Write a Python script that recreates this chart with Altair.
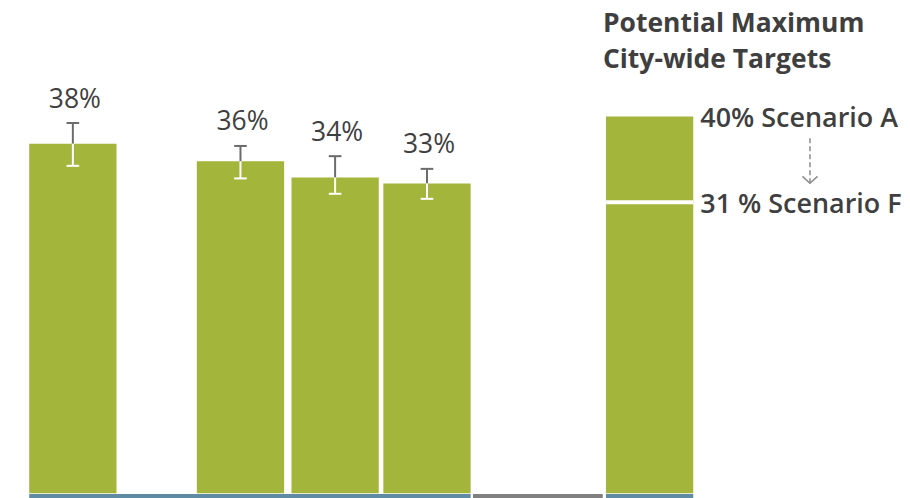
import altair as alt
import pandas as pd

# ---- data ----
groups = ["Group 1", "Group 2", "Group 3", "Group 4"]
slot_pos = [0.0, 1.826, 2.857, 3.858]          # layout slot of each bar (category order)
values = [38.0, 36.1, 34.33, 33.68]
value_labels = ["38%", "36%", "34%", "33%"]
err_hi = [40.26, 37.76, 36.65, 35.27]
err_lo = [35.6, 34.23, 32.56, 32.01]

target_slot = 6.283
target_values = [40.97, 31.65]
target_labels = ["40% Scenario A", "31 % Scenario F"]
target_title = "Potential Maximum\nCity-wide Targets"
arrow_from, arrow_to = 38.6, 33.7

# ---- styling ----
GREEN = "#a4b53b"
BLUE = "#5f8ba5"
GREY_STRIP = "#808080"
ERR_GREY = "#6b6b6b"
TEXT = "#3f3f3f"
FONT = "Open Sans"
HW = 0.4755      # half bar width in slot units
CAP = 0.069      # half cap width in slot units

W, H = 894, 495
UNIT = 92.0
XMIN = -65 / UNIT
XMAX = XMIN + W / UNIT
xs = alt.Scale(domain=[XMIN, XMAX], nice=False, zero=False)
ys = alt.Scale(domain=[-1, 52.7], nice=False, zero=False)

bars = pd.DataFrame({
    "group": groups + ["Target"],
    "pos": slot_pos + [target_slot],
    "val": values + [target_values[0]],
})
bars["x0"] = bars["pos"] - HW
bars["x1"] = bars["pos"] + HW
bars["zero"] = 0.0

err = pd.DataFrame({
    "group": groups, "pos": slot_pos, "val": values,
    "hi": err_hi, "lo": err_lo, "label": value_labels,
})
err["c0"] = err["pos"] - CAP
err["c1"] = err["pos"] + CAP

strip = pd.DataFrame({
    "x0": [slot_pos[0] - HW, slot_pos[-1] + HW + 0.025, target_slot - HW],
    "x1": [slot_pos[-1] + HW, target_slot - HW - 0.035, target_slot + HW],
    "color": [BLUE, GREY_STRIP, BLUE],
})
strip["y0"] = -0.08
strip["y1"] = -1.0

target = pd.DataFrame({
    "val": target_values, "label": target_labels,
    "x0": [target_slot - HW] * 2, "x1": [target_slot + HW] * 2,
})
gap = target.iloc[[1]].reset_index(drop=True)

ttl = pd.DataFrame({"t": [target_title], "x": [target_slot - HW], "y": [50.1]})
arrow = pd.DataFrame({"x": [target_slot + 1.747], "a": [arrow_from], "b": [arrow_to]})

X = lambda f: alt.X(f, type="quantitative", scale=xs, axis=None)
Y = lambda f: alt.Y(f, type="quantitative", scale=ys, axis=None)

bar_layer = alt.Chart(bars).mark_bar(color=GREEN).encode(
    x=X("x0"), x2="x1", y=Y("val"), y2="zero")

gap_layer = alt.Chart(gap).mark_rule(color="white", strokeWidth=4).encode(
    x=X("x0"), x2="x1", y=Y("val"))

strip_layer = alt.Chart(strip).mark_rect().encode(
    x=X("x0"), x2="x1", y=Y("y0"), y2="y1",
    color=alt.Color("color:N", scale=None))

err_up = alt.Chart(err).mark_rule(color=ERR_GREY, strokeWidth=2).encode(
    x=X("pos"), y=Y("val"), y2="hi")
err_dn = alt.Chart(err).mark_rule(color="white", strokeWidth=2).encode(
    x=X("pos"), y=Y("lo"), y2="val")
cap_up = alt.Chart(err).mark_rule(color=ERR_GREY, strokeWidth=2).encode(
    x=X("c0"), x2="c1", y=Y("hi"))
cap_dn = alt.Chart(err).mark_rule(color="white", strokeWidth=2).encode(
    x=X("c0"), x2="c1", y=Y("lo"))

val_text = alt.Chart(err).mark_text(
    font=FONT, fontSize=26.5, color=TEXT, baseline="alphabetic", dy=-15.5, dx=2
).encode(x=X("pos"), y=Y("hi"), text="label:N")

title_text = alt.Chart(ttl).mark_text(
    font=FONT, fontSize=26.5, fontWeight="bold", color=TEXT, align="left",
    baseline="alphabetic", lineBreak="\n", lineHeight=36, dx=-3
).encode(x=X("x"), y=Y("y"), text="t:N")

scen_text = alt.Chart(target).mark_text(
    font=FONT, fontSize=27, fontWeight=600, color=TEXT, align="left",
    baseline="alphabetic", dx=7, dy=11
).encode(x=X("x1"), y=Y("val"), text="label:N")

arrow_line = alt.Chart(arrow).mark_rule(color="#8c8c8c", strokeWidth=1.5, strokeDash=[5, 3]).encode(
    x=X("x"), y=Y("a"), y2="b")
arrow_head = alt.Chart(arrow).mark_point(
    shape="M-1,-0.93L0,0L1,-0.93", size=225, filled=False, color="#8c8c8c",
    strokeWidth=1.5, opacity=1
).encode(x=X("x"), y=Y("b"))

chart = alt.layer(
    bar_layer, gap_layer, strip_layer, err_up, err_dn, cap_up, cap_dn,
    val_text, title_text, scen_text, arrow_line, arrow_head
).properties(width=W, height=H, padding=0).configure_view(strokeWidth=0)

chart.save("out.html", embed_options={"renderer": "svg", "actions": False})
